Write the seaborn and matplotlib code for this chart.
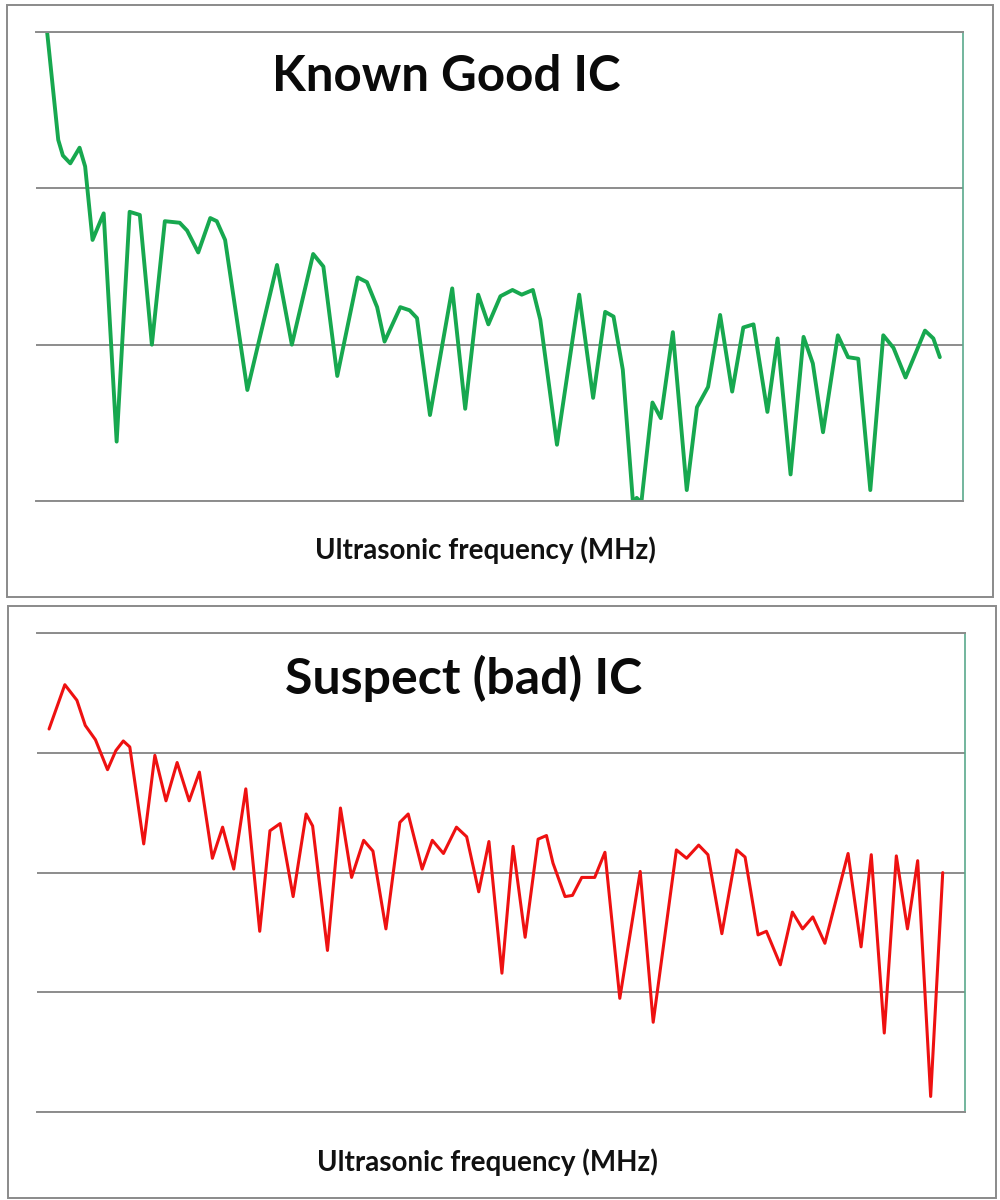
import numpy as np
import pandas as pd
import matplotlib
matplotlib.use("Agg")
import matplotlib.pyplot as plt
from matplotlib.patches import Rectangle
import seaborn as sns

# frequency (arbitrary MHz scale, 0-100 across the plot area) and response
good_freq = [1.2, 2.4, 2.9, 3.7, 4.7, 5.3, 6.1, 7.3, 8.7, 10.1, 11.2, 12.5, 13.9, 15.5, 16.3,
             17.5, 18.8, 19.5, 20.4, 22.8, 26.0, 27.6, 29.9, 31.0, 32.5, 34.7, 35.7, 36.8, 37.6,
             39.3, 40.3, 41.1, 42.5, 44.9, 46.3, 47.7, 48.8, 50.1, 51.4, 52.4, 53.6, 54.4, 56.2,
             58.6, 60.1, 61.4, 62.3, 63.3, 64.4, 64.8, 65.3, 66.5, 67.4, 68.7, 70.2, 71.3, 72.5,
             73.8, 75.1, 76.3, 77.4, 78.9, 80.0, 81.4, 82.8, 83.8, 84.9, 86.5, 87.6, 88.7, 90.0,
             91.4, 92.5, 93.8, 95.9, 96.8, 97.5]
good_resp = [3.00, 2.31, 2.21, 2.16, 2.26, 2.14, 1.67, 1.84, 0.38, 1.85, 1.83, 1.00, 1.79, 1.78, 1.73,
             1.59, 1.81, 1.79, 1.67, 0.71, 1.51, 1.00, 1.58, 1.50, 0.80, 1.43, 1.40, 1.24, 1.02,
             1.24, 1.22, 1.17, 0.55, 1.36, 0.59, 1.32, 1.13, 1.31, 1.35, 1.32, 1.35, 1.16, 0.36,
             1.32, 0.66, 1.21, 1.18, 0.84, -0.01, 0.02, -0.01, 0.63, 0.53, 1.08, 0.07, 0.60, 0.73,
             1.19, 0.70, 1.11, 1.13, 0.57, 1.04, 0.17, 1.05, 0.88, 0.44, 1.06, 0.92, 0.91, 0.07,
             1.06, 0.98, 0.79, 1.09, 1.04, 0.92]

bad_freq = [1.3, 3.0, 4.3, 5.2, 6.3, 7.6, 8.5, 9.3, 10.0, 11.5, 12.7, 13.9, 15.1, 16.4, 17.5,
            18.9, 20.0, 21.2, 22.5, 24.0, 25.1, 26.2, 27.6, 29.0, 29.7, 31.3, 32.7, 33.9, 35.2,
            36.2, 37.6, 39.1, 40.0, 41.5, 42.6, 43.8, 45.2, 46.3, 47.6, 48.7, 50.1, 51.3, 52.6,
            54.0, 54.9, 55.6, 56.9, 57.7, 58.7, 60.1, 61.2, 62.8, 65.0, 66.4, 68.9, 70.0, 71.3,
            72.3, 73.8, 75.4, 76.3, 77.7, 78.6, 80.1, 81.4, 82.5, 83.6, 84.9, 87.4, 88.8, 89.9,
            91.3, 92.6, 93.8, 94.9, 96.3, 97.6]
bad_resp = [3.20, 3.57, 3.44, 3.23, 3.11, 2.86, 3.02, 3.10, 3.05, 2.24, 2.98, 2.60, 2.92, 2.60, 2.84,
            2.12, 2.38, 2.03, 2.70, 1.51, 2.35, 2.41, 1.80, 2.49, 2.39, 1.35, 2.54, 1.96, 2.27,
            2.18, 1.53, 2.42, 2.49, 2.03, 2.27, 2.16, 2.38, 2.30, 1.84, 2.26, 1.16, 2.22, 1.46,
            2.28, 2.31, 2.08, 1.80, 1.81, 1.96, 1.96, 2.17, 0.95, 2.01, 0.75, 2.19, 2.12, 2.23,
            2.15, 1.49, 2.19, 2.13, 1.48, 1.51, 1.23, 1.67, 1.53, 1.63, 1.41, 2.16, 1.38, 2.15,
            0.66, 2.14, 1.53, 2.10, 0.13, 2.00]

titles = ["Known Good IC", "Suspect (bad) IC"]
xlabel = "Ultrasonic frequency (MHz)"

sns.set_theme(style="white")
plt.rcParams['font.family'] = ['Lato', 'DejaVu Sans']

fig = plt.figure(figsize=(10, 12), dpi=100)

grid_col = '#8c8c8c'

# chart frames (like the excel chart objects)
fig.add_artist(Rectangle((0.007, 1 - 597 / 1200), 0.986, 592 / 1200, transform=fig.transFigure,
                         fill=False, ec='#8a8a8a', lw=1.4))
fig.add_artist(Rectangle((0.008, 1 - 1198 / 1200), 0.988, 592 / 1200, transform=fig.transFigure,
                         fill=False, ec='#8a8a8a', lw=1.4))

ax1 = fig.add_axes([0.036, 0.5825, 0.927, 0.3908])
ax2 = fig.add_axes([0.037, 0.0733, 0.928, 0.399])

df_good = pd.DataFrame({'freq': good_freq, 'resp': good_resp})
df_bad = pd.DataFrame({'freq': bad_freq, 'resp': bad_resp})

sns.lineplot(data=df_good, x='freq', y='resp', ax=ax1, color='#17a84f', lw=2.8,
             solid_joinstyle='round', solid_capstyle='round')
sns.lineplot(data=df_bad, x='freq', y='resp', ax=ax2, color='#ee1111', lw=2.2,
             solid_joinstyle='round', solid_capstyle='round')

for ax, top, title, tx, fs in [(ax1, 3, titles[0], 0.443, 35.5), (ax2, 4, titles[1], 0.46, 36)]:
    ax.set_xlim(0, 100)
    ax.set_ylim(0, top)
    ax.set_yticks(range(0, top + 1))
    ax.set_yticklabels([])
    ax.set_xticks([])
    ax.yaxis.grid(True, color=grid_col, lw=1.4)
    ax.set_ylabel('')
    ax.set_xlabel(xlabel, fontsize=20, fontweight='bold', color='#111')
    ax.xaxis.set_label_coords(0.485, -0.075)
    ax.spines['left'].set_visible(False)
    ax.spines['top'].set_color(grid_col)
    ax.spines['bottom'].set_color(grid_col)
    ax.spines['top'].set_linewidth(1.4)
    ax.spines['bottom'].set_linewidth(1.4)
    ax.spines['right'].set_color('#5aa98c')
    ax.spines['right'].set_linewidth(1.2)
    ax.tick_params(left=False, bottom=False)
    ax.text(tx, 0.905, title, transform=ax.transAxes, ha='center', va='center',
            fontsize=fs, fontweight='bold', color='#0a0a0a')

plt.savefig('out.png', dpi=100)
